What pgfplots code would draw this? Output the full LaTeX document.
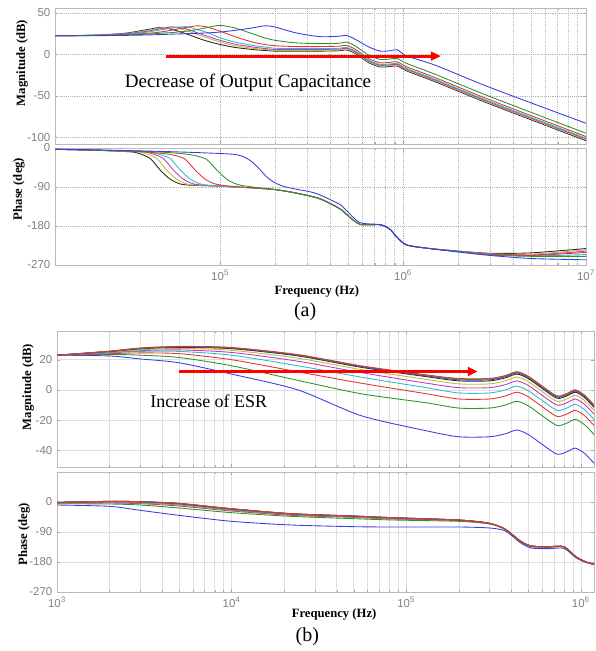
\documentclass[border=0pt]{standalone}
\usepackage{fontspec}
\setmainfont{Liberation Serif}
\newfontfamily\sansf{Liberation Sans}
\usepackage{pgfplots}
\pgfplotsset{compat=1.18}
\usepackage{pgfplotstable}
\usetikzlibrary{arrows.meta}

\definecolor{mb}{RGB}{60,60,230}
\definecolor{mg}{RGB}{40,150,40}
\definecolor{mr}{RGB}{230,50,50}
\definecolor{mc}{RGB}{40,190,200}
\definecolor{mm}{RGB}{200,50,200}
\definecolor{my}{RGB}{190,190,40}
\definecolor{mk}{RGB}{40,40,40}

\pgfplotstableread{
f        k      y      m      c      r      g      b
12500    22.5   22.5   22.5   22.5   22.5   22.5   22.5
20000    23.2   23.2   23.1   23.0   23.0   22.8   22.6
30000    25.5   25.0   24.7   24.4   24.0   23.5   23.0
40000    30.0   29.0   28.0   27.0   25.5   24.5   23.5
47000    32.5   32.0   31.0   29.5   27.0   25.5   24.0
55000    30.0   33.0   33.2   32.0   29.5   26.5   24.5
65000    25.0   29.0   31.0   33.5   32.5   28.0   25.0
75000    20.0   24.0   26.0   30.0   34.5   30.0   25.5
85000    16.0   20.0   22.0   26.5   33.0   32.5   26.0
100000   12.0   15.0   17.0   20.0   28.0   35.0   27.0
120000   8.5    10.5   12.5   15.0   21.5   32.0   29.0
150000   6.0    7.5    9.0    11.0   15.0   25.0   32.0
175000   4.8    6.0    7.2    9.0    12.0   20.0   34.5
200000   4.0    5.0    6.0    7.5    10.5   17.0   33.0
260000   4.0    5.0    6.0    7.0    9.5    14.0   26.0
350000   4.0    5.0    6.0    7.0    9.5    13.0   21.5
450000   4.5    5.5    6.5    7.5    10.0   13.5   22.0
490000   5.5    6.5    7.5    8.5    11.0   15.0   23.0
550000   1.0    2.0    3.0    4.0    6.0    10.0   18.0
650000   -10    -9     -8     -7     -5     -1     9
750000   -15    -14    -13    -12    -10    -6     4
850000   -14.5  -13.5  -12.5  -11.5  -9.5   -5.5   4.5
930000   -14    -13    -12    -11    -9     -5     5.5
1050000  -20    -19    -18    -17    -15    -11    -2
1500000  -33    -32    -31    -30    -28    -24    -13
3000000  -60    -59    -58    -57    -55    -51    -40
10000000 -104   -103   -102   -101   -99    -95    -83
}\magA

\pgfplotstableread{
f        b      g      r      c      m      y      k      bb     gg     rr
1000     23     23     23     23     23     23     23     23     23     23
2000     22.5   23.5   24     24.5   24.8   25     25.4   25.5   25.6   25.7
3000     20.5   23     24.5   25.5   26     26.5   27.2   27.4   27.6   27.8
5000     18     21.5   24     25.5   26.5   27.5   28.2   28.4   28.6   28.8
10000    10.5   16     20     23     24.8   26.2   27.3   27.6   27.9   28.1
24000    0      6.3    12     16     19     21     22.5   22.8   23.1   23.4
55000    -17    -2.5   4.5    8.5    11.5   13.5   15     15.4   15.7   16
130000   -27    -8.5   -2.5   1.5    4.5    7      8.8    9.3    9.7    10
200000   -31    -12    -6     -2     1.5    4      6      6.7    7.2    7.6
300000   -31    -12    -6     -2     1.5    4      6      6.7    7.2    7.6
370000   -29    -10    -4     0      3.5    6      8      8.7    9.2    9.6
430000   -26.5  -7.5   -1.5   2.5    6      8.5    10.5   11.2   11.7   12.1
500000   -29.5  -10.5  -4.5   -0.5   3      5.5    7.5    8.2    8.7    9.1
600000   -36    -17    -11    -7     -3.5   -1     1      1.7    2.2    2.6
730000   -42.5  -23.5  -17.5  -13.5  -10    -7.5   -5.5   -4.8   -4.3   -3.9
830000   -41    -22    -16    -12    -8.5   -6     -4     -3.3   -2.8   -2.4
930000   -38.5  -19.5  -13.5  -9.5   -6     -3.5   -1.5   -0.8   -0.3   0.1
1050000  -42    -23    -17    -13    -9.5   -7     -5     -4.3   -3.8   -3.4
1190000  -48.5  -29.5  -23.5  -19.5  -16    -13.5  -11.5  -10.8  -10.3  -9.9
}\magB

\pgfplotstableread{
f        b      g      r      c      m      y      k      bb     gg     rr
1000     -9     -5     -3     -2     -2     -1.5   -1     -1     -1     -1
2000     -13    -6     -3     -1     0      1      1.5    2      2      2
3000     -25    -9     -5     -3     -1     0      0.5    1      1      1
5000     -40    -18    -12    -9     -7     -6     -5     -4.5   -4     -4
10000    -58    -32    -27    -25    -23    -22    -21    -20.5  -20    -20
22000    -69    -43    -40    -38    -37    -36    -35.5  -35    -35    -35
50000    -74    -50    -46    -45    -44    -43    -42.5  -42    -42    -42
84000    -75    -54    -51    -50    -49    -48    -47.5  -47    -47    -47
200000   -75    -58    -56    -55    -55    -54    -54    -54    -54    -54
300000   -78    -66    -65    -64    -64    -64    -64    -64    -64    -64
370000   -87    -83    -82    -82    -82    -82    -82    -82    -82    -82
450000   -122   -119   -118   -117   -117   -117   -117   -117   -117   -117
520000   -138   -134   -133   -132   -132   -132   -132   -132   -132   -132
650000   -140   -136   -135   -134   -134   -134   -134   -134   -134   -134
800000   -139   -135   -135   -134   -134   -134   -134   -134   -134   -134
930000   -166   -164   -163   -163   -163   -163   -163   -163   -163   -163
1050000  -180   -179   -178   -178   -178   -178   -178   -178   -178   -178
1190000  -188   -187   -187   -187   -187   -187   -187   -187   -187   -187
}\phaB

\pgfplotsset{
  bode/.style={
    scale only axis, clip mode=individual,
    axis line style={gray!55}, tick style={gray!70},
    major tick length=2.5pt, minor tick length=1.5pt,
    tick label style={font=\sansf\fontsize{8.6}{10}\selectfont, text=gray},
    /pgf/number format/assume math mode=true,
    label style={font=\bfseries\fontsize{9.5}{11}\selectfont},
    every axis plot/.append style={line width=0.65pt, no markers, smooth, tension=0.45},
  },
  agrid/.style={xmajorgrids, xminorgrids, ymajorgrids,
    major grid style={densely dotted, gray!60},
    minor grid style={densely dotted, gray!50}},
  bgrid/.style={xmajorgrids, xminorgrids, ymajorgrids,
    major grid style={gray!25, line width=0.4pt},
    minor grid style={gray!25, line width=0.4pt}},
}

\begin{document}
\begin{tikzpicture}
\useasboundingbox (0,0) rectangle (447pt,-488.25pt);

% (a) magnitude
\begin{semilogxaxis}[bode, agrid, anchor=north west, at={(41.25pt,-6pt)},
  width=398.25pt, height=102pt,
  xmin=12500, xmax=1e7, ymin=-108, ymax=56,
  ytick={-100,-50,0,50}, xtick={1e5,1e6,1e7}, xticklabels={},
  ylabel={Magnitude (dB)},
  ylabel style={at={(axis description cs:-0.062,0.596)}, anchor=center}]
\addplot[mk] table[x=f,y=k] {\magA};
\addplot[my] table[x=f,y=y] {\magA};
\addplot[mm] table[x=f,y=m] {\magA};
\addplot[mc] table[x=f,y=c] {\magA};
\addplot[mr] table[x=f,y=r] {\magA};
\addplot[mg] table[x=f,y=g] {\magA};
\addplot[mb] table[x=f,y=b] {\magA};
\draw[red, line width=2.2pt, -{Triangle[length=7.5pt,width=6.5pt]}] (axis cs:50700,-2) -- (axis cs:1.61e6,-2);
\node[anchor=west, inner sep=0pt, font=\fontsize{14.3}{16}\selectfont] at (axis cs:30000,-34.5) {Decrease of Output Capacitance};
\end{semilogxaxis}

% (a) phase
\begin{semilogxaxis}[bode, agrid, anchor=north west, at={(41.25pt,-111pt)},
  width=398.25pt, height=87.75pt,
  xmin=12500, xmax=1e7, ymin=-270, ymax=0,
  ytick={-270,-180,-90,0}, xtick={1e5,1e6,1e7},
  xticklabels={10\textsuperscript{5},10\textsuperscript{6},10\textsuperscript{7}},
  ylabel={Phase (deg)},
  ylabel style={at={(axis description cs:-0.068,0.65)}, anchor=center},
  xlabel={Frequency (Hz)},
  xlabel style={at={(axis description cs:0.493,-0.222)}, anchor=center}]
\addplot[mk] coordinates {(12500,-3)(20000,-5)(30000,-8)(35000,-11)(41400,-24)(47000,-51)(53300,-72)(60500,-83)(70000,-86)(100000,-88)(120000,-90)(150000,-92)(200000,-96)(260000,-104)(350000,-117)(450000,-140)(490000,-153)(580000,-176)(750000,-177)(850000,-188)(930000,-207)(1050000,-224)(1400000,-232)(2000000,-238)(3000000,-243)(5000000,-242)(10000000,-232)};
\addplot[my] coordinates {(12500,-3)(20000,-5)(33000,-8)(38000,-11)(45000,-24)(51000,-51)(57800,-72)(65600,-83)(76000,-86)(100000,-88)(120000,-90)(150000,-92)(200000,-96)(260000,-104)(350000,-117)(450000,-140)(490000,-153)(580000,-176)(750000,-177)(850000,-188)(930000,-207)(1050000,-224)(1400000,-232)(2000000,-238)(3000000,-244)(5000000,-245)(10000000,-235)};
\addplot[mm] coordinates {(12500,-3)(20000,-5)(36000,-8)(41600,-12)(48800,-24)(55500,-51)(62900,-72)(71500,-83)(83000,-86)(100000,-88)(120000,-90)(150000,-92)(200000,-96)(260000,-104)(350000,-117)(450000,-140)(490000,-153)(580000,-176)(750000,-177)(850000,-188)(930000,-207)(1050000,-224)(1400000,-232)(2000000,-238)(3000000,-244)(5000000,-247)(10000000,-238)};
\addplot[mc] coordinates {(12500,-3)(20000,-5)(39000,-9)(45000,-13)(53000,-24)(60500,-51)(68600,-72)(78000,-83)(90000,-86.5)(120000,-90)(150000,-92)(200000,-96)(260000,-104)(350000,-117)(450000,-140)(490000,-153)(580000,-176)(750000,-177)(850000,-188)(930000,-207)(1050000,-224)(1400000,-232)(2000000,-238)(3000000,-245)(5000000,-249)(10000000,-246)};
\addplot[mr] coordinates {(12500,-3)(20000,-5)(35000,-8)(47000,-12)(55000,-16)(64000,-25)(73000,-51)(82700,-72)(94000,-83)(110000,-87.5)(150000,-92)(200000,-96)(260000,-104)(350000,-117)(450000,-140)(490000,-153)(580000,-176)(750000,-177)(850000,-188)(930000,-207)(1050000,-224)(1400000,-232)(2000000,-239)(3000000,-245)(5000000,-248)(10000000,-241)};
\addplot[mg] coordinates {(12500,-3)(20000,-5)(35000,-7)(50000,-10)(62000,-13)(72000,-17)(84000,-26)(96000,-51)(108700,-72)(124000,-84)(150000,-90)(200000,-96)(260000,-104)(350000,-117)(450000,-140)(490000,-153)(580000,-176)(750000,-177)(850000,-188)(930000,-207)(1050000,-224)(1400000,-232)(2000000,-239)(3000000,-247)(5000000,-250)(10000000,-250)};
\addplot[mb] coordinates {(12500,-3)(20000,-4)(49000,-8)(80000,-11)(114000,-14)(130000,-18)(145000,-28)(161000,-45)(178000,-65)(195000,-78)(220000,-88)(260000,-95)(310000,-101)(350000,-108)(450000,-130)(490000,-144)(580000,-172)(750000,-177)(850000,-188)(930000,-207)(1050000,-224)(1400000,-232)(2000000,-240)(3000000,-248)(5000000,-255)(10000000,-258)};
\node[font=\fontsize{15}{18}\selectfont] at (axis description cs:0.471,-0.40) {(a)};
\end{semilogxaxis}

% (b) magnitude
\begin{semilogxaxis}[bode, bgrid, anchor=north west, at={(42.75pt,-248.25pt)},
  width=402.75pt, height=102pt,
  xmin=1000, xmax=1.19e6, ymin=-51, ymax=39,
  ytick={-40,-20,0,20}, xtick={1e3,1e4,1e5,1e6}, xticklabels={},
  ylabel={Magnitude (dB)},
  ylabel style={at={(axis description cs:-0.054,0.588)}, anchor=center}]
\addplot[mb] table[x=f,y=b] {\magB};
\addplot[mg] table[x=f,y=g] {\magB};
\addplot[mr] table[x=f,y=r] {\magB};
\addplot[mc] table[x=f,y=c] {\magB};
\addplot[mm] table[x=f,y=m] {\magB};
\addplot[my] table[x=f,y=y] {\magB};
\addplot[mk] table[x=f,y=k] {\magB};
\addplot[mb] table[x=f,y=bb] {\magB};
\addplot[mg] table[x=f,y=gg] {\magB};
\addplot[mr] table[x=f,y=rr] {\magB};
\draw[red, line width=2.2pt, -{Triangle[length=7.5pt,width=6.5pt]}] (axis cs:5000,12.2) -- (axis cs:2.57e5,12.2);
\node[anchor=west, inner sep=0pt, font=\fontsize{13.5}{16}\selectfont] at (axis cs:3410,-7.3) {Increase of ESR};
\end{semilogxaxis}

% (b) phase
\begin{semilogxaxis}[bode, bgrid, anchor=north west, at={(42.75pt,-354pt)},
  width=402.75pt, height=90pt,
  xmin=1000, xmax=1.19e6, ymin=-270, ymax=90,
  ytick={-270,-180,-90,0}, xtick={1e3,1e4,1e5,1e6},
  xticklabels={10\textsuperscript{3},10\textsuperscript{4},10\textsuperscript{5},10\textsuperscript{6}},
  ylabel={Phase (deg)},
  ylabel style={at={(axis description cs:-0.061,0.483)}, anchor=center},
  xlabel={Frequency (Hz)},
  xlabel style={at={(axis description cs:0.516,-0.19)}, anchor=center}]
\addplot[mb] table[x=f,y=b] {\phaB};
\addplot[mg] table[x=f,y=g] {\phaB};
\addplot[mr] table[x=f,y=r] {\phaB};
\addplot[mc] table[x=f,y=c] {\phaB};
\addplot[mm] table[x=f,y=m] {\phaB};
\addplot[my] table[x=f,y=y] {\phaB};
\addplot[mk] table[x=f,y=k] {\phaB};
\addplot[mb] table[x=f,y=bb] {\phaB};
\addplot[mg] table[x=f,y=gg] {\phaB};
\addplot[mr] table[x=f,y=rr] {\phaB};
\node[font=\fontsize{15}{18}\selectfont] at (axis description cs:0.466,-0.375) {(b)};
\end{semilogxaxis}
\end{tikzpicture}
\end{document}
